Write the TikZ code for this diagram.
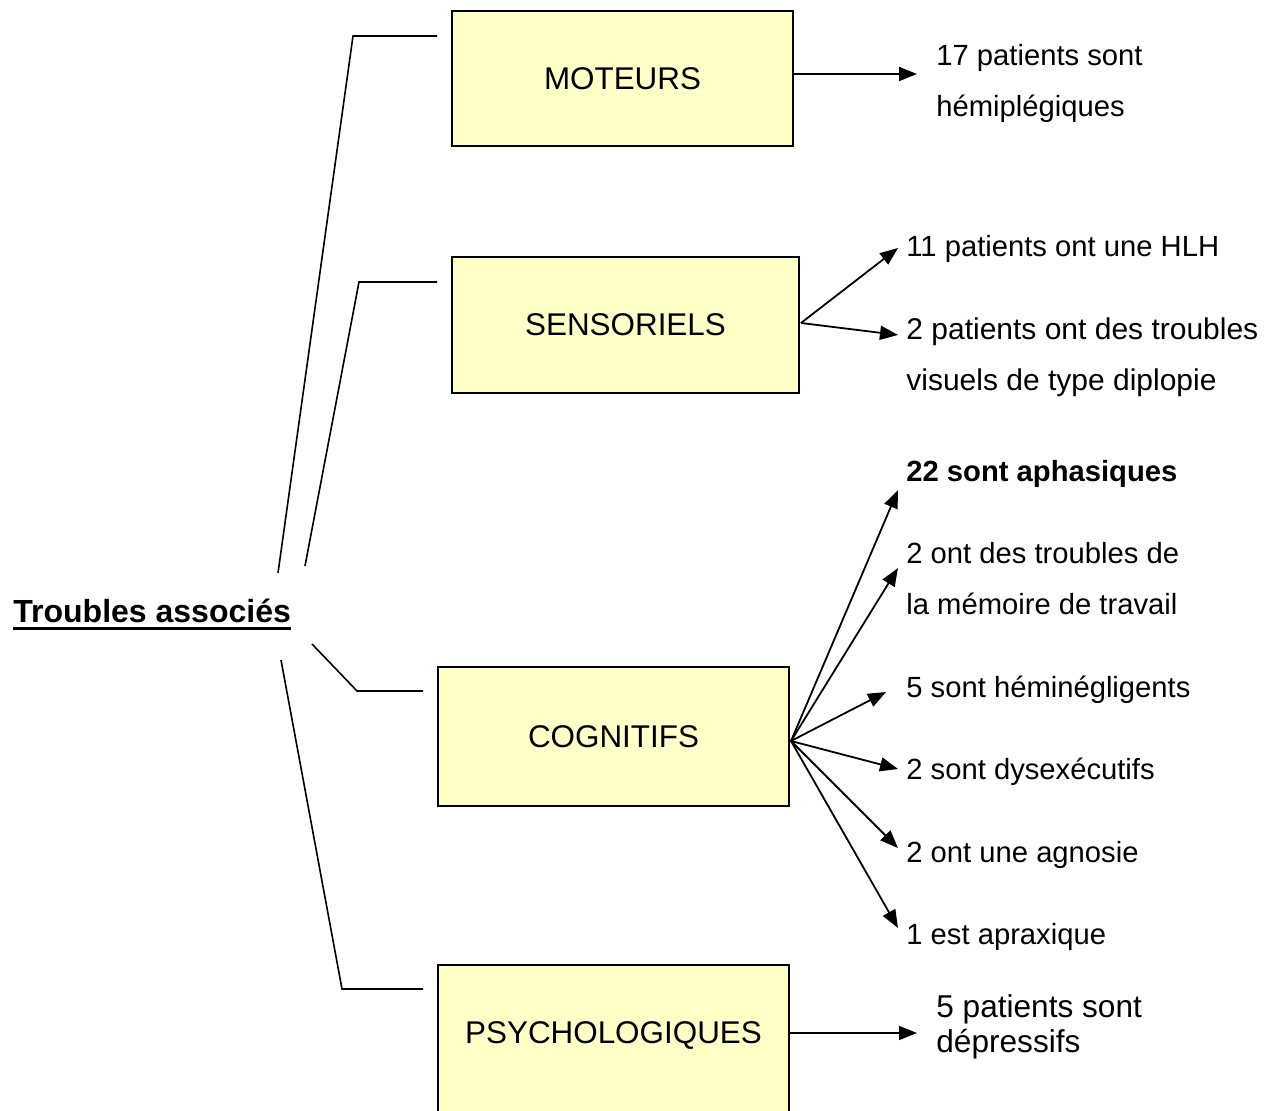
\documentclass[tikz,border=0pt]{standalone}
\usepackage{fontspec}
\setmainfont{Liberation Sans}
\usepackage{tikz}
\definecolor{boxyellow}{RGB}{255,255,200}
\newcommand{\thickul}[1]{\setbox0\hbox{#1}\rlap{\rule[-3.5pt]{\wd0}{1.3pt}}\box0}
\tikzset{
box/.style={draw, line width=1pt, fill=boxyellow, inner sep=0pt, font=\fontsize{15.7}{18}\selectfont},
item/.style={anchor=base west, inner sep=0pt, align=left, font=\fontsize{14.6}{25.5}\selectfont},
title/.style={anchor=base west, inner sep=0pt, font=\bfseries\fontsize{16}{19}\selectfont},
link/.style={line width=0.8pt},
arr/.style={-{Triangle[length=9pt,width=7pt]}, line width=0.9pt}
}
\usetikzlibrary{arrows.meta, calc}

\begin{document}
\begin{tikzpicture}[x=0.5pt, y=-0.5pt]
			\clip (0,0) rectangle (1271,1111);
			\node[title] (tr) at (13,623) {\thickul{Troubles associés}};
			% boxes
			\node[box, minimum width=170.5pt, minimum height=67.5pt] (mot) at (622.5,78.5) {MOTEURS};
			\node[box, minimum width=173.5pt, minimum height=68pt] (sen) at (625.5,325) {SENSORIELS};
			\node[box, minimum width=175.5pt, minimum height=69.5pt] (cog) at (613.5,736.5) {COGNITIFS};
			\node[box, anchor=north, minimum width=175.5pt, text height=11.2pt, text depth=12.7pt, inner ysep=28.3pt] (psy) at (613.5,964) {PSYCHOLOGIQUES};
			% ---- (two-line texts sit on their last baseline)
			\node[item] (t17) at (936,117) {17 patients sont\\hémiplégiques};
			\node[item] (hlh) at (906,257) {11 patients ont une HLH};
			\node[item, font=\fontsize{15}{25.5}\selectfont] (dip) at (906,391) {2 patients ont des troubles\\visuels de type diplopie};
			\node[item, font=\bfseries\fontsize{14.6}{25.5}\selectfont] (aph) at (906,482) {22 sont aphasiques};
			\node[item] (mem) at (906,615) {2 ont des troubles de\\la mémoire de travail};
			\node[item] (hem) at (906,698) {5 sont héminégligents};
			\node[item] (dys) at (906,780) {2 sont dysexécutifs};
			\node[item] (agn) at (906,863) {2 ont une agnosie};
			\node[item] (apr) at (906,945) {1 est apraxique};
			\node[item, font=\fontsize{15.8}{17.5}\selectfont] (dep) at (936,1053) {5 patients sont\\dépressifs};
			% ----
			\coordinate (m0) at (278,573);
			\coordinate (m1) at (353,36);
			\coordinate (m2) at (437,36);
			\coordinate (s0) at (305,566);
			\coordinate (s1) at (359,282);
			\coordinate (s2) at (437,282);
			\coordinate (c0) at (312,644);
			\coordinate (c1) at (357,691);
			\coordinate (c2) at (423,691);
			\coordinate (p0) at (281,660);
			\coordinate (p1) at (342,989);
			\coordinate (p2) at (423,989);
			\draw[link] (m0) -- (m1) -- (m2);
			\draw[link] (s0) -- (s1) -- (s2);
			\draw[link] (c0) -- (c1) -- (c2);
			\draw[link] (p0) -- (p1) -- (p2);
			% ----
			\draw[arr] ($(mot.east)+(0,-4.5)$) -- ++(123,0);
			\coordinate (so) at ($(sen.east)+(1,-2)$);
			\draw[arr] (so) -- ($(hlh.base west)+(-8,-9)$);
			\draw[arr] (so) -- ($(dip.base west)+(-8,-56)$);
			\coordinate (co) at ($(cog.east)+(1,4.5)$);
			\draw[arr] (co) -- ($(aph.base west)+(-8,8)$);
			\draw[arr] (co) -- ($(mem.base west)+(-8,-47)$);
			\draw[arr] (co) -- ($(hem.base west)+(-20,-6)$);
			\draw[arr] (co) -- ($(dys.base west)+(-8,-11)$);
			\draw[arr] (co) -- ($(agn.base west)+(-8,-15)$);
			\draw[arr] (co) -- ($(apr.base west)+(-8,-17)$);
			\draw[arr] ($(psy.north east)+(0,69)$) -- ++(127,0);
		\end{tikzpicture}
\end{document}
